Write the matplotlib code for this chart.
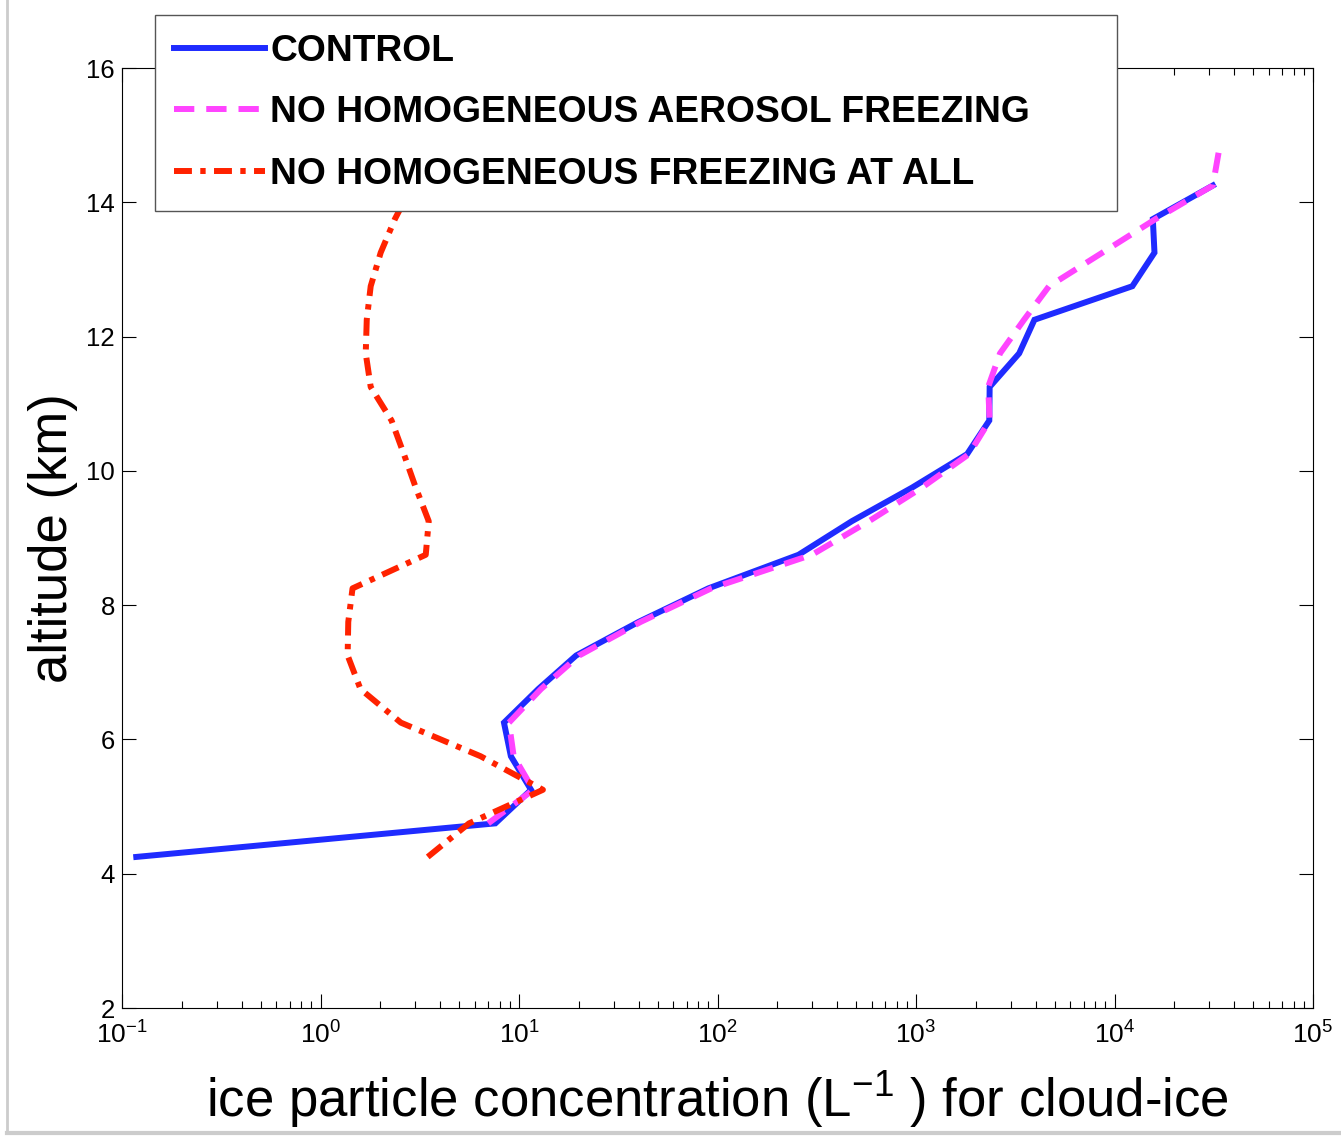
import numpy as np
import matplotlib
matplotlib.use("Agg")
import matplotlib.pyplot as plt
from matplotlib.lines import Line2D

# altitude levels (km)
alt_control = [4.25, 4.75, 5.25, 5.75, 6.25, 6.75, 7.25, 7.75, 8.25, 8.75, 9.25,
               9.75, 10.25, 10.75, 11.25, 11.75, 12.25, 12.75, 13.25, 13.75, 14.25]
control = [0.118, 7.6, 11.5, 9.1, 8.4, 12.5, 19.4, 40, 90, 256, 475,
           955, 1810, 2340, 2350, 3310, 3950, 12300, 15900, 15600, 31300]

alt_no_aer = [4.75, 5.25, 5.75, 6.25, 6.75, 7.25, 7.75, 8.25, 8.75, 9.25, 9.75,
              10.25, 10.75, 11.25, 11.75, 12.25, 12.75, 13.25, 13.75, 14.25, 14.75]
no_aer = [7.0, 11.8, 9.4, 8.9, 12.9, 20.1, 41, 93, 299, 579, 1070,
          1850, 2350, 2310, 2650, 3500, 4680, 8690, 16100, 31300, 33500]

alt_no_hom = [4.25, 4.75, 5.25, 5.75, 6.25, 6.75, 7.25, 7.75, 8.25, 8.75, 9.25,
              9.75, 10.25, 10.75, 11.25, 11.75, 12.25, 12.75, 13.25, 13.75, 14.25, 14.75]
no_hom = [3.47, 5.6, 13.2, 6.4, 2.54, 1.59, 1.37, 1.38, 1.45, 3.39, 3.51,
          3.02, 2.63, 2.28, 1.79, 1.69, 1.71, 1.79, 2.01, 2.37, 2.9, 3.5]

labels = ["CONTROL", "NO HOMOGENEOUS AEROSOL FREEZING", "NO HOMOGENEOUS FREEZING AT ALL"]
yticks = [2, 4, 6, 8, 10, 12, 14, 16]

plt.rcParams["font.family"] = ["Liberation Sans", "DejaVu Sans"]
plt.rcParams["mathtext.fontset"] = "custom"
plt.rcParams["mathtext.rm"] = "Liberation Sans"

W, H = 1341, 1136
fig = plt.figure(figsize=(W / 100, H / 100), dpi=100)
ax = fig.add_axes([122 / W, 1 - 1008 / H, (1313 - 122) / W, (1008 - 68) / H])

lw = 4.3
l1, = ax.plot(control, alt_control, color="#1f2bff", lw=lw, solid_joinstyle="miter")
l2, = ax.plot(no_aer, alt_no_aer, color="#ff44ff", lw=lw, linestyle=(0, (3.4, 2.0)))
l3, = ax.plot(no_hom, alt_no_hom, color="#ff2200", lw=lw, linestyle=(0, (3.0, 1.4, 0.9, 1.4)))

ax.set_xscale("log")
ax.set_xlim(1e-1, 1e5)
ax.set_ylim(2, 16)
ax.set_yticks(yticks)
ax.tick_params(which="both", direction="in", top=True, right=True)
ax.tick_params(axis="y", labelsize=18.5, pad=5)
ax.tick_params(axis="x", labelsize=19, pad=10)
ax.tick_params(which="major", length=10, width=0.8)
ax.tick_params(which="minor", length=5, width=0.8)
for s in ax.spines.values():
    s.set_linewidth(0.8)

ax.set_xlabel(r"ice particle concentration (L$^{\mathregular{-1}}$ ) for cloud-ice", fontsize=38, labelpad=14)
ax.set_ylabel("altitude (km)", fontsize=38, labelpad=6)

leg = fig.legend([l1, l2, l3], labels, loc="upper left",
                 bbox_to_anchor=(155 / W, 1 - 211 / H, (1117 - 155) / W, (211 - 15) / H),
                 mode="expand", prop={"weight": "bold", "size": 26.8},
                 handlelength=2.45, handletextpad=0.15, labelspacing=0.72,
                 borderpad=0.5, borderaxespad=0, fancybox=False, framealpha=1,
                 edgecolor="#555555")
leg.get_frame().set_linewidth(1.0)

# light frame of the original image (left and bottom)
fig.add_artist(Line2D([0.005, 0.005], [0.003, 1], transform=fig.transFigure, color="#cccccc", lw=2))
fig.add_artist(Line2D([0.005, 1], [0.003, 0.003], transform=fig.transFigure, color="#cccccc", lw=3))

fig.savefig("out.png", dpi=100)
